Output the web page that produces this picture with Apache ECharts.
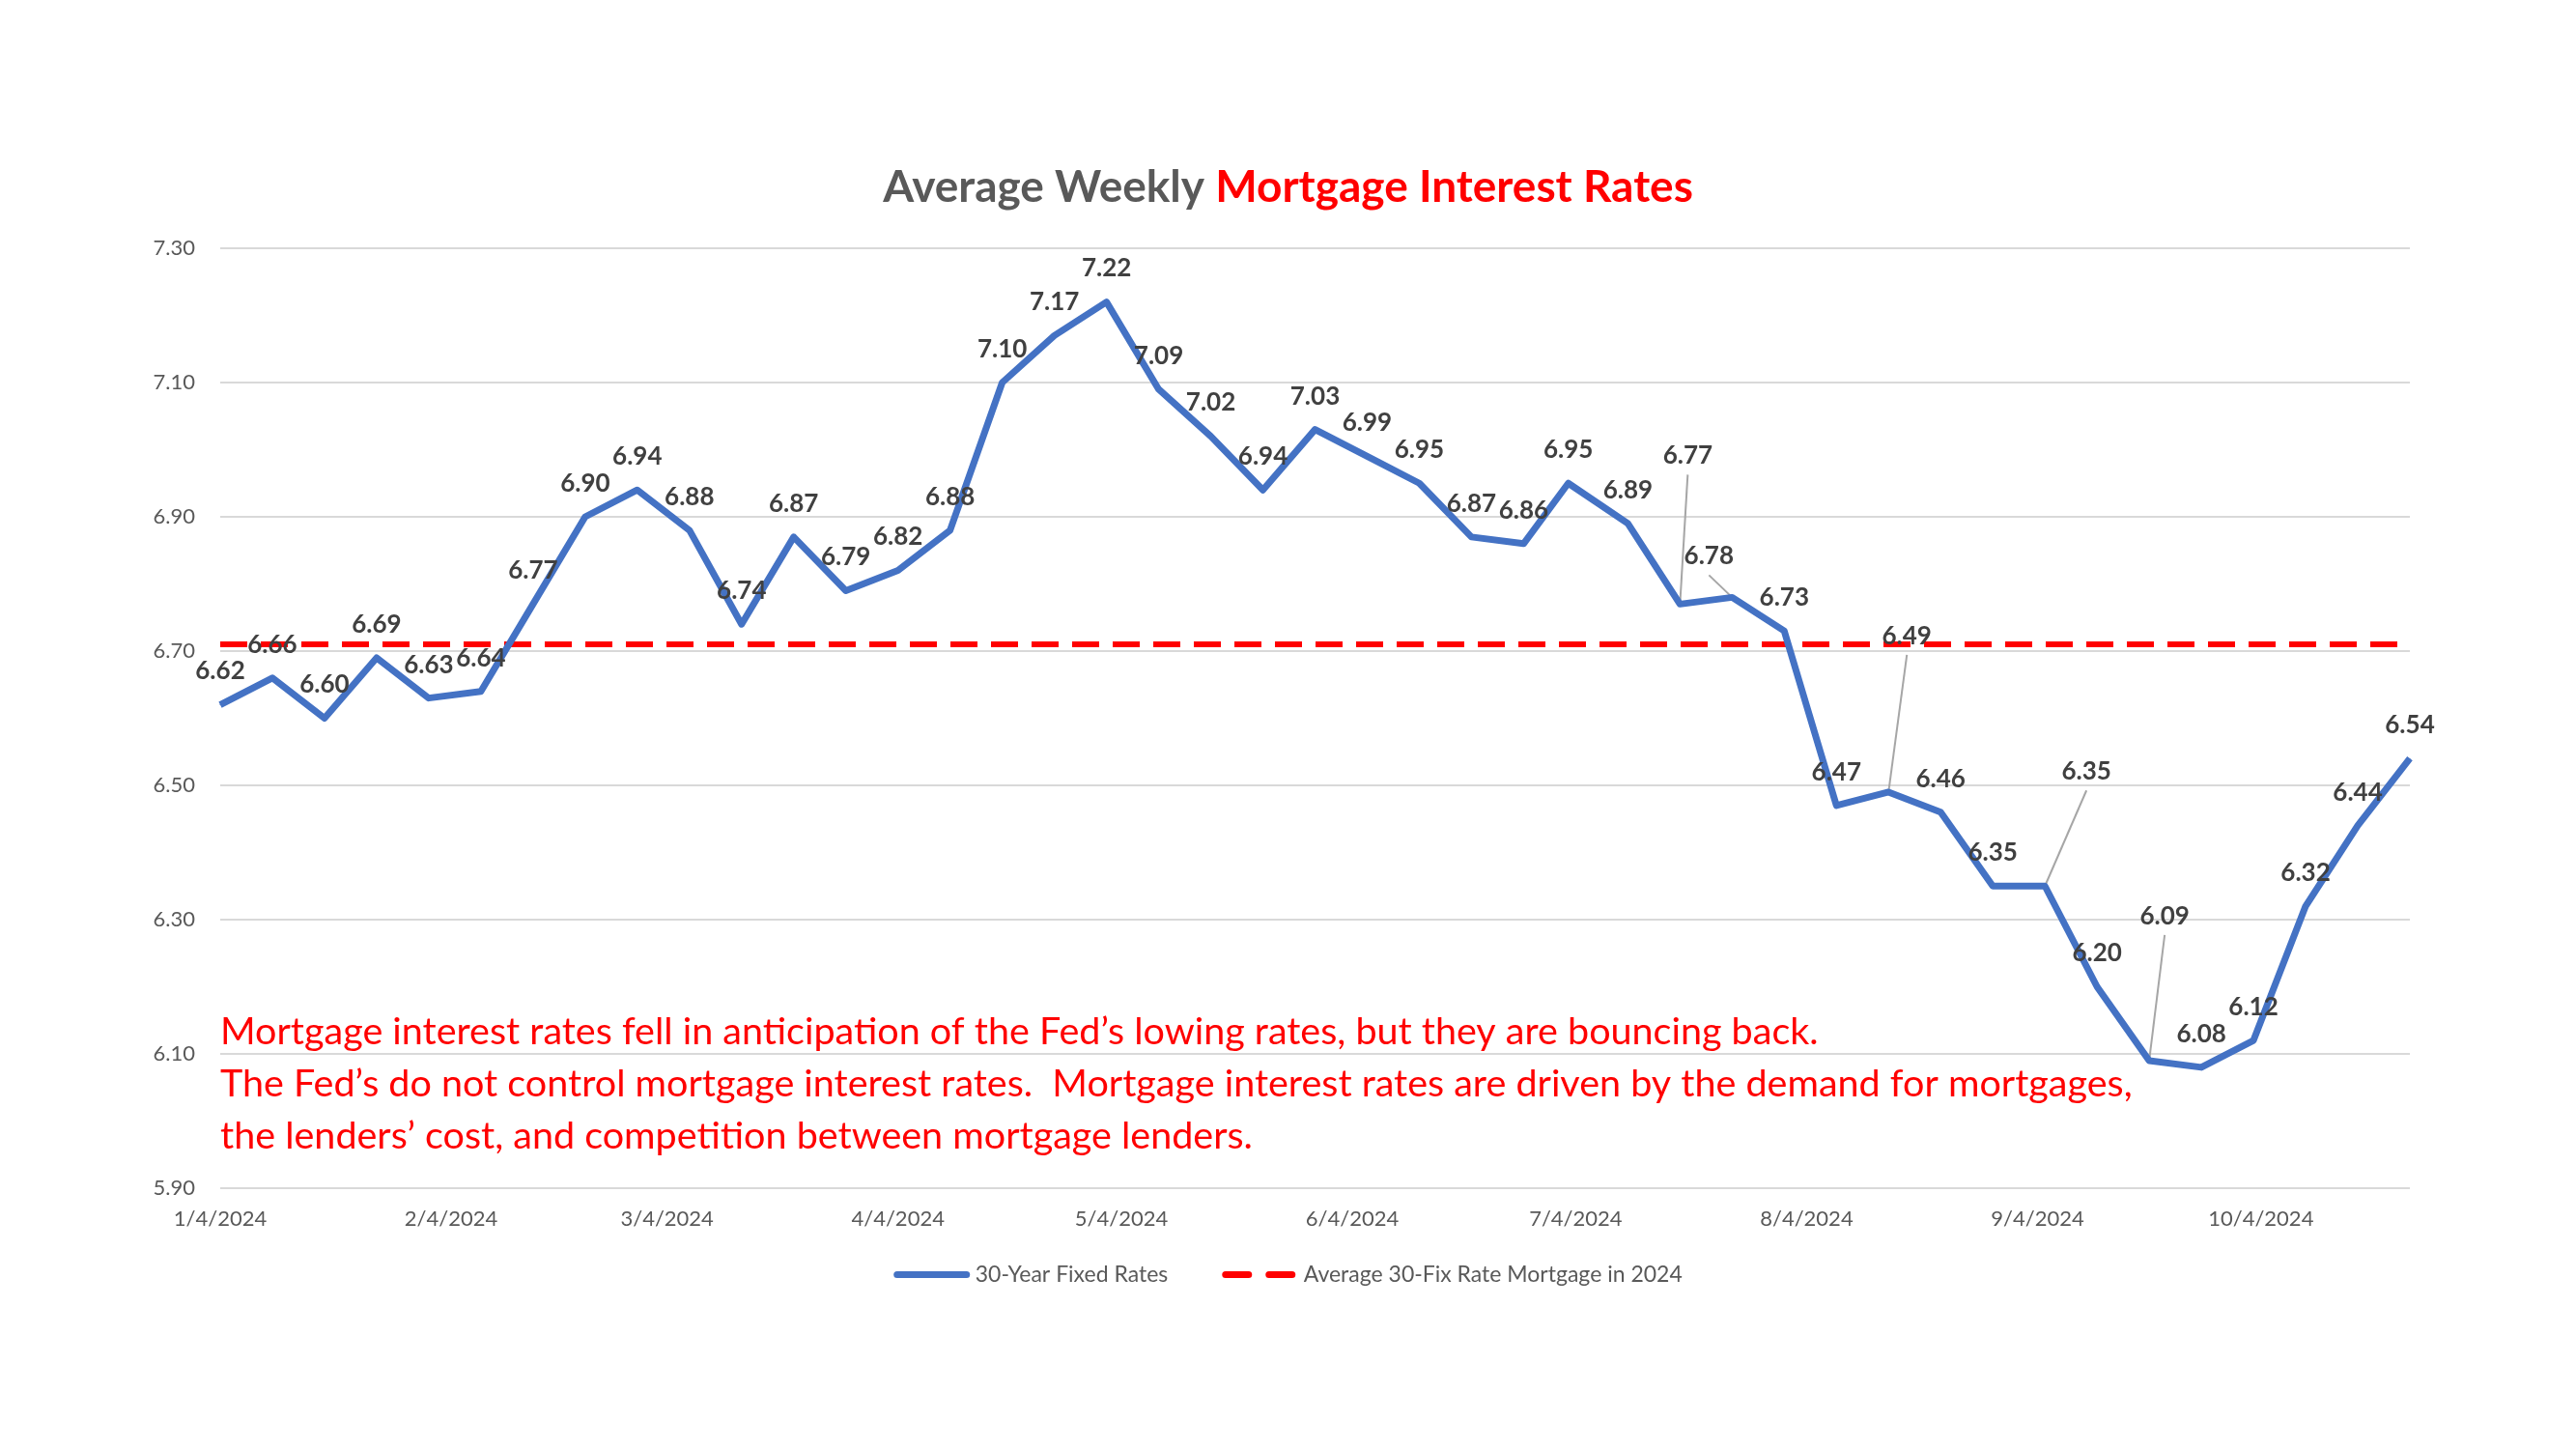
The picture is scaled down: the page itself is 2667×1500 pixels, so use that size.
<!DOCTYPE html>
<html style="height: 100%;width: 100%">
<head>
    <meta charset="utf-8">
    <script src="https://cdn.jsdelivr.net/npm/echarts@6/dist/echarts.min.js"></script>
    <style>
        html, body { margin: 0; padding: 0; background: #fff; }
    </style>
</head>
<body style="height: 100%;width: 100%;overflow: hidden">
<div id="container" style="width: 2667px;height: 1500px"></div>
<script type="text/javascript">

// weekly 30-year fixed rates, 2024
var weeks = [
    '2024-01-04', '2024-01-11', '2024-01-18', '2024-01-25',
    '2024-02-01', '2024-02-08', '2024-02-15', '2024-02-22', '2024-02-29',
    '2024-03-07', '2024-03-14', '2024-03-21', '2024-03-28',
    '2024-04-04', '2024-04-11', '2024-04-18', '2024-04-25',
    '2024-05-02', '2024-05-09', '2024-05-16', '2024-05-23', '2024-05-30',
    '2024-06-06', '2024-06-13', '2024-06-20', '2024-06-27',
    '2024-07-03', '2024-07-11', '2024-07-18', '2024-07-25',
    '2024-08-01', '2024-08-08', '2024-08-15', '2024-08-22', '2024-08-29',
    '2024-09-05', '2024-09-12', '2024-09-19', '2024-09-26',
    '2024-10-03', '2024-10-10', '2024-10-17', '2024-10-24'
];
var rates = [
    6.62, 6.66, 6.60, 6.69,
    6.63, 6.64, 6.77, 6.90, 6.94,
    6.88, 6.74, 6.87, 6.79,
    6.82, 6.88, 7.10, 7.17,
    7.22, 7.09, 7.02, 6.94, 7.03,
    6.99, 6.95, 6.87, 6.86,
    6.95, 6.89, 6.77, 6.78,
    6.73, 6.47, 6.49, 6.46, 6.35,
    6.35, 6.20, 6.09, 6.08,
    6.12, 6.32, 6.44, 6.54
];
var avgRate = 6.71;
var avgWeeks = ['2024-01-04', '2024-10-24'];

var xTicks = ['2024-01-04', '2024-02-04', '2024-03-04', '2024-04-04', '2024-05-04',
              '2024-06-04', '2024-07-04', '2024-08-04', '2024-09-04', '2024-10-04'];
var yTicks = [5.9, 6.1, 6.3, 6.5, 6.7, 6.9, 7.1, 7.3];

var seriesNames = ['30-Year Fixed Rates', 'Average 30-Fix Rate Mortgage in 2024'];
var noteLines = [
    'Mortgage interest rates fell in anticipation of the Fed\u2019s lowing rates, but they are bouncing back.',
    'The Fed\u2019s do not control mortgage interest rates.  Mortgage interest rates are driven by the demand for mortgages,',
    'the lenders\u2019 cost, and competition between mortgage lenders.'
];

// labels that were dragged away from their point (label centre relative to the point, px)
var movedLabels = {
    28: [8, -154],
    29: [-24, -43],
    32: [19, -162],
    35: [43, -119],
    37: [16, -150]
};
var LABEL_RISE = 35;

var FONT = 'Lato, "Open Sans", sans-serif';
var BLUE = '#4472C4';
var RED = '#FF0000';
var DASH = [28, 14];

// local-time timestamp for a yyyy-mm-dd string
function ts(s) {
    var p = s.split('-');
    return new Date(+p[0], +p[1] - 1, +p[2]).getTime();
}
function fmtDate(v) {
    var d = new Date(v);
    return (d.getMonth() + 1) + '/' + d.getDate() + '/' + d.getFullYear();
}

var dom = document.getElementById('container');
var myChart = echarts.init(dom);

var rateData = weeks.map(function (w, i) { return [ts(w), rates[i]]; });
var leaderData = [];
for (var k in movedLabels) {
    leaderData.push([ts(weeks[k]), rates[k], +k]);
}

var option = {
    backgroundColor: '#ffffff',
    animation: false,
    title: {
        text: '{g|Average Weekly }{r|Mortgage Interest Rates}',
        left: 'center',
        top: 166,
        textStyle: {
            rich: {
                g: { fontFamily: FONT, fontSize: 46, fontWeight: 'bold', color: '#595959' },
                r: { fontFamily: FONT, fontSize: 46, fontWeight: 'bold', color: RED }
            }
        }
    },
    grid: { left: 228, right: 172, top: 257, bottom: 270 },
    legend: {
        data: [
            { name: seriesNames[0], lineStyle: { color: BLUE, width: 7, type: 'solid', cap: 'round' } },
            { name: seriesNames[1], lineStyle: { color: RED, width: 7, type: [24, 21], cap: 'round' } }
        ],
        left: 'center',
        top: 1303,
        itemWidth: 72,
        itemHeight: 14,
        itemGap: 56,
        itemStyle: { opacity: 0 },
        textStyle: { fontFamily: FONT, fontSize: 23, color: '#595959', padding: [0, 0, 0, 4] }
    },
    xAxis: {
        type: 'value',
        min: 'dataMin',
        max: 'dataMax',
        axisLine: { show: false },
        axisTick: { show: false, customValues: xTicks.map(ts) },
        splitLine: { show: false },
        axisLabel: {
            customValues: xTicks.map(ts),
            formatter: fmtDate,
            margin: 21,
            fontFamily: FONT,
            fontSize: 22,
            color: '#595959'
        }
    },
    yAxis: {
        type: 'value',
        min: 5.9,
        max: 7.3,
        axisLine: { show: false },
        axisTick: { show: false, customValues: yTicks },
        splitLine: { show: true, lineStyle: { color: '#D9D9D9', width: 2 } },
        axisLabel: {
            customValues: yTicks,
            formatter: function (v) { return v.toFixed(2); },
            margin: 26,
            fontFamily: FONT,
            fontSize: 22,
            color: '#595959'
        }
    },
    series: [
        {
            name: seriesNames[1],
            type: 'line',
            data: avgWeeks.map(function (w) { return [ts(w), avgRate]; }),
            symbol: 'none',
            z: 3,
            lineStyle: { color: RED, width: 6, type: DASH },
            itemStyle: { color: RED }
        },
        {
            name: 'leaders',
            type: 'custom',
            z: 2,
            silent: true,
            encode: { x: 0, y: 1 },
            data: leaderData,
            renderItem: function (params, api) {
                var p = api.coord([api.value(0), api.value(1)]);
                var off = movedLabels[api.value(2)];
                return {
                    type: 'line',
                    shape: { x1: p[0] + off[0], y1: p[1] + off[1] + 20, x2: p[0], y2: p[1] },
                    style: { stroke: '#A6A6A6', lineWidth: 2 }
                };
            }
        },
        {
            name: seriesNames[0],
            type: 'line',
            data: rateData,
            z: 4,
            symbol: 'circle',
            symbolSize: 1,
            showSymbol: true,
            lineStyle: { color: BLUE, width: 7, join: 'round' },
            itemStyle: { color: BLUE },
            label: {
                show: true,
                position: 'top',
                distance: 21,
                fontFamily: FONT,
                fontSize: 26,
                fontWeight: 'bold',
                color: '#404040',
                formatter: function (p) { return p.value[1].toFixed(2); }
            },
            labelLayout: function (params) {
                var off = movedLabels[params.dataIndex];
                if (!off) {
                    return { hideOverlap: false };
                }
                return { dx: off[0], dy: off[1] + LABEL_RISE, hideOverlap: false };
            }
        }
    ],
    graphic: [{
        type: 'text',
        left: 228,
        top: 1041,
        style: {
            text: noteLines.join('\n'),
            font: '39.5px ' + FONT,
            fill: RED,
            lineHeight: 54
        }
    }]
};

if (option && typeof option === 'object') {
    myChart.setOption(option);
}

</script>
</body>
</html>
